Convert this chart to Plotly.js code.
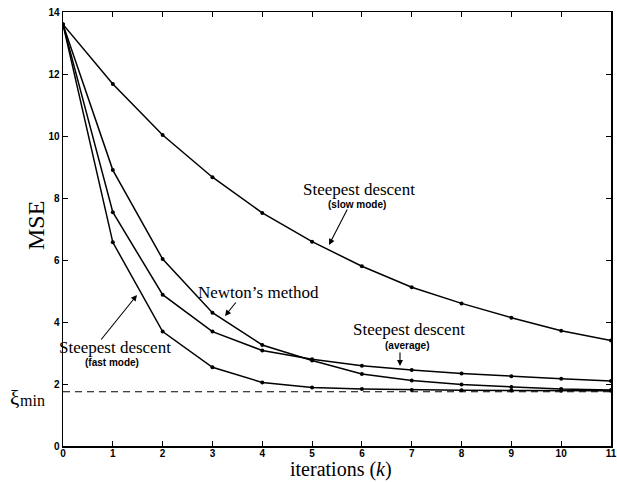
<!DOCTYPE html>
<html>
<head>
<meta charset="utf-8">
<script src="https://cdn.plot.ly/plotly-3.0.1.min.js"></script>
<style>html,body{margin:0;padding:0;background:#fff;}#chart{width:617px;height:482px;}</style>
</head>
<body>
<div id="chart"></div>
<script>
// ---- data ----
var iterations = [0, 1, 2, 3, 4, 5, 6, 7, 8, 9, 10, 11];
var slowMode   = [13.6, 11.68, 10.03, 8.67, 7.52, 6.59, 5.80, 5.12, 4.60, 4.14, 3.72, 3.40];
var newton     = [13.6, 8.90, 6.03, 4.30, 3.26, 2.76, 2.32, 2.11, 1.98, 1.90, 1.84, 1.81];
var average    = [13.6, 7.54, 4.88, 3.69, 3.08, 2.80, 2.59, 2.45, 2.34, 2.25, 2.17, 2.10];
var fastMode   = [13.6, 6.57, 3.69, 2.54, 2.05, 1.89, 1.84, 1.81, 1.80, 1.79, 1.78, 1.78];
var xiMin      = 1.75;
var xTicks     = [0, 1, 2, 3, 4, 5, 6, 7, 8, 9, 10, 11];
var yTicks     = [0, 2, 4, 6, 8, 10, 12, 14];

// ---- layout geometry ----
var W = 617, H = 482;
var M = {l: 63, r: 6, t: 12, b: 36};
var pw = W - M.l - M.r, ph = H - M.t - M.b;
function px2x(px) { return (px - M.l) / pw * 11; }
function py2y(py) { return (H - M.b - py) / ph * 14; }

var serif = 'Liberation Serif';
var sans = 'Liberation Sans';

function curve(yvals) {
  return {
    x: iterations, y: yvals, type: 'scatter', mode: 'lines+markers',
    line: {color: '#000', width: 1.5},
    marker: {color: '#000', size: 4},
    showlegend: false, hoverinfo: 'skip'
  };
}

var traces = [curve(slowMode), curve(newton), curve(average), curve(fastMode), {
  x: [iterations[0], iterations[iterations.length - 1]],
  y: [xiMin, xiMin],
  type: 'scatter', mode: 'lines',
  line: {color: '#000', width: 1, dash: '7px,5px'},
  showlegend: false, hoverinfo: 'skip'
}];

function label(txt, cx, cy, size, fam, bold) {
  var f = {family: fam, size: size, color: '#000'};
  if (bold) f.weight = 'bold';
  return {text: txt, x: px2x(cx), y: py2y(cy), xref: 'x', yref: 'y',
    showarrow: false, xanchor: 'center', yanchor: 'middle', font: f};
}
function arrow(tx, ty, hx, hy) {
  return {text: '', x: px2x(hx), y: py2y(hy), xref: 'x', yref: 'y',
    ax: tx - hx, ay: ty - hy, showarrow: true,
    arrowhead: 2, arrowsize: 1.1, arrowwidth: 1.1, arrowcolor: '#000', standoff: 0, startstandoff: 0};
}

var annotations = [
  label('Steepest descent', 359, 189, 17, serif),
  label('(slow mode)', 357, 204, 10, sans, true),
  arrow(348, 208, 329, 245),
  label('Newton\u2019s method', 258, 292, 17, serif),
  arrow(237, 301, 225, 316),
  label('Steepest descent', 409, 329, 17, serif),
  label('(average)', 407, 345, 10, sans, true),
  arrow(400, 351, 400, 366),
  label('Steepest descent', 115, 347, 17, serif),
  label('(fast mode)', 112, 362, 10, sans, true),
  arrow(100, 341, 137, 295),
  {text: 'MSE', xref: 'paper', yref: 'paper', x: (36 - M.l) / pw, y: (H - M.b - 226) / ph,
    textangle: -90, showarrow: false, xanchor: 'center', yanchor: 'middle',
    font: {family: serif, size: 24, color: '#000'}},
  {text: 'iterations (<i>k</i>)', xref: 'paper', yref: 'paper', x: (341 - M.l) / pw, y: (H - M.b - 482) / ph,
    showarrow: false, xanchor: 'center', yanchor: 'bottom', borderpad: 0,
    font: {family: serif, size: 20, color: '#000'}},
  {text: '\u03be', xref: 'paper', yref: 'paper', x: (14 - M.l) / pw, y: (H - M.b - 398) / ph,
    showarrow: false, xanchor: 'center', yanchor: 'middle',
    font: {family: serif, size: 21, color: '#000'}},
  {text: 'min', xref: 'paper', yref: 'paper', x: (18 - M.l) / pw, y: (H - M.b - 400) / ph,
    showarrow: false, xanchor: 'left', yanchor: 'middle',
    font: {family: serif, size: 16, color: '#000'}}
];

var axisCommon = {
  showgrid: false, zeroline: false, showline: true, linecolor: '#000', linewidth: 1.5,
  mirror: 'ticks', ticks: 'inside', ticklen: 5, tickwidth: 1, tickcolor: '#000',
  tickfont: {family: sans, size: 10, color: '#000', weight: 'bold'}
};

var layout = {
  width: W, height: H,
  margin: M,
  paper_bgcolor: '#fff', plot_bgcolor: '#fff',
  xaxis: Object.assign({}, axisCommon, {range: [0, 11], tickvals: xTicks, ticktext: xTicks.map(String), ticklabelstandoff: -3}),
  yaxis: Object.assign({}, axisCommon, {range: [0, 14], tickvals: yTicks, ticktext: yTicks.map(String)}),
  annotations: annotations,
  showlegend: false
};

Plotly.newPlot('chart', traces, layout, {staticPlot: true, displayModeBar: false});
</script>
</body>
</html>
